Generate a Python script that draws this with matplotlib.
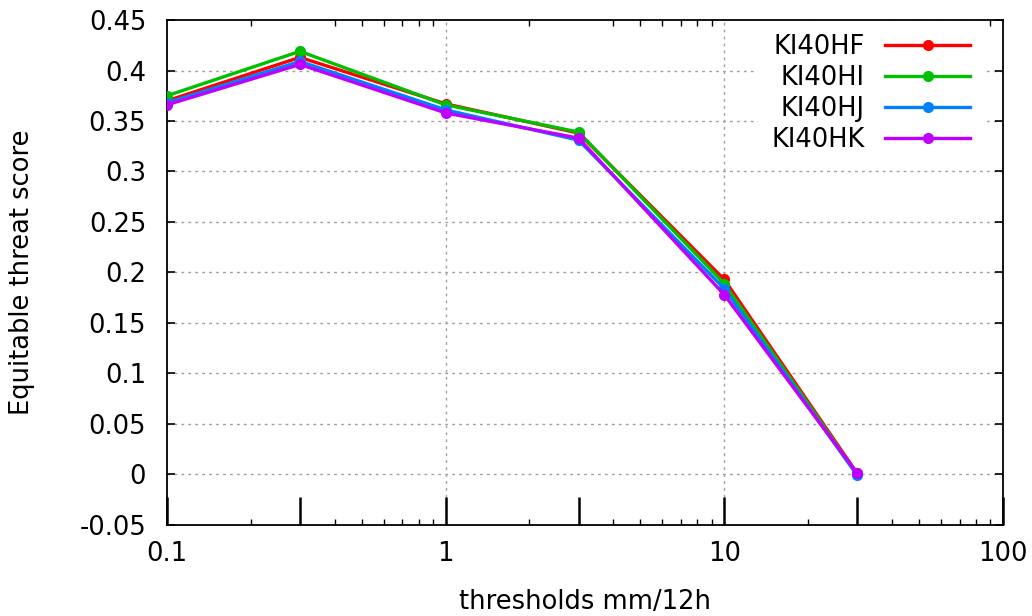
import matplotlib
matplotlib.use("Agg")
import matplotlib.pyplot as plt
from matplotlib.ticker import FixedLocator, FixedFormatter, NullFormatter

# thresholds (mm/12h) and equitable threat scores
thresholds = [0.1, 0.3, 1, 3, 10, 30]
ets_hf = [0.370, 0.413, 0.367, 0.338, 0.193, 0.001]
ets_hi = [0.375, 0.419, 0.366, 0.339, 0.189, 0.000]
ets_hj = [0.368, 0.409, 0.361, 0.331, 0.184, -0.001]
ets_hk = [0.366, 0.406, 0.358, 0.333, 0.178, 0.001]

labels = ["KI40HF", "KI40HI", "KI40HJ", "KI40HK"]
colors = ["#ff0000", "#00c000", "#0080ff", "#c000ff"]

x_major = [0.1, 0.3, 1, 3, 10, 30, 100]
x_major_labels = ["0.1", "", "1", "", "10", "", "100"]
x_minor = [0.2, 0.4, 0.5, 0.6, 0.7, 0.8, 0.9,
           2, 4, 5, 6, 7, 8, 9,
           20, 40, 50, 60, 70, 80, 90]
y_ticks = [-0.05, 0, 0.05, 0.1, 0.15, 0.2, 0.25, 0.3, 0.35, 0.4, 0.45]
y_tick_labels = ["-0.05", "0", "0.05", "0.1", "0.15", "0.2", "0.25",
                 "0.3", "0.35", "0.4", "0.45"]

plt.rcParams['font.family'] = ['DejaVu Sans']
fs = 18.5

fig = plt.figure(figsize=(10.32, 6.16), dpi=100)
ax = fig.add_axes([0.1618, 0.148, 0.810, 0.8195])

grid_style = dict(color="#a0a0a0", linewidth=1.0, linestyle=(0, (2, 3)), zorder=0)
for yv in y_ticks[1:-1]:
    ax.axhline(yv, **grid_style)
for xv in [1, 10]:
    ax.axvline(xv, **grid_style)

for series, lab, col in zip([ets_hf, ets_hi, ets_hj, ets_hk], labels, colors):
    ax.plot(thresholds, series, color=col, linewidth=2.4, marker="o",
            markersize=7, label=lab, zorder=3)

ax.set_xscale("log")
ax.set_xlim(0.1, 100)
ax.set_ylim(-0.05, 0.45)

ax.xaxis.set_major_locator(FixedLocator(x_major))
ax.xaxis.set_major_formatter(FixedFormatter(x_major_labels))
ax.xaxis.set_minor_locator(FixedLocator(x_minor))
ax.xaxis.set_minor_formatter(NullFormatter())
ax.yaxis.set_major_locator(FixedLocator(y_ticks))
ax.yaxis.set_major_formatter(FixedFormatter(y_tick_labels))

ax.tick_params(axis="x", which="major", direction="in", length=20, width=1.8,
               top=False, labelsize=fs, pad=12)
ax.tick_params(axis="x", which="minor", direction="in", length=4, width=1,
               top=True)
ax.tick_params(axis="y", which="major", direction="in", length=6, width=1.2,
               right=True, labelsize=fs, pad=15)
for sp in ax.spines.values():
    sp.set_linewidth(1.3)

ax.set_xlabel("thresholds mm/12h", fontsize=fs)
ax.set_ylabel("Equitable threat score", fontsize=fs)
ax.xaxis.set_label_coords(0.5, -0.127)
ax.yaxis.set_label_coords(-0.158, 0.5)

# key box blanks the grid behind it, like gnuplot's key
leg = ax.legend(loc="upper right", bbox_to_anchor=(0.976, 0.998),
                frameon=True, facecolor="white", edgecolor="none",
                framealpha=1.0, fancybox=False, markerfirst=False,
                fontsize=fs, handlelength=3.3, handletextpad=0.8,
                labelspacing=0.2, borderaxespad=0, borderpad=0.5)

fig.savefig("out.png", dpi=100)
